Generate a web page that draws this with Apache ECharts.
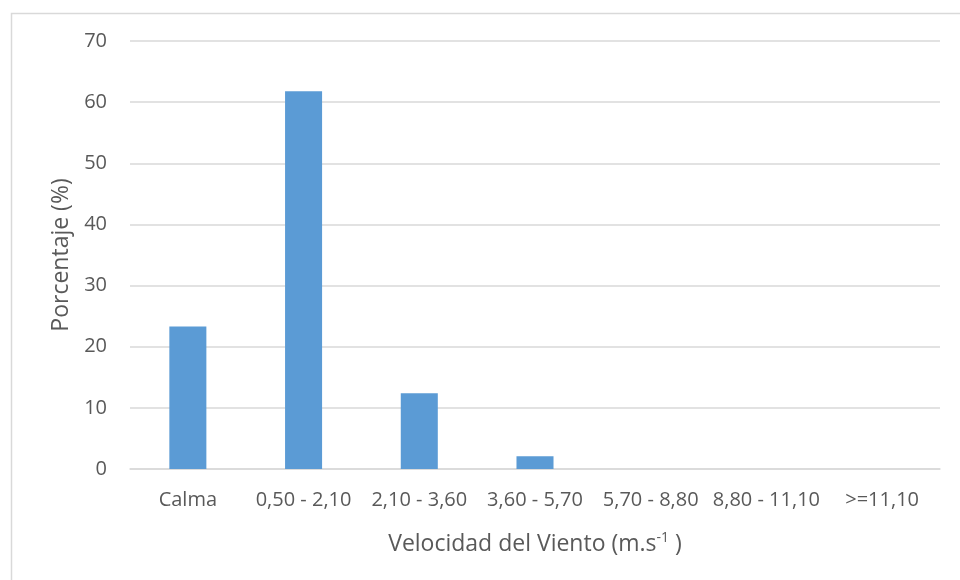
<!DOCTYPE html>
<html><head><meta charset="utf-8">
<script src="https://cdn.jsdelivr.net/npm/echarts@6/dist/echarts.min.js"></script>
<style>html,body{margin:0;padding:0;background:#fff}#c{width:960px;height:580px}</style>
</head><body><div id="c"></div>
<script>
const categories = ['Calma', '0,50 - 2,10', '2,10 - 3,60', '3,60 - 5,70', '5,70 - 8,80', '8,80 - 11,10', '>=11,10'];
const percentages = [23.3, 61.8, 12.4, 2.1, 0, 0, 0];
const yTicks = { min: 0, max: 70, interval: 10 };

const chart = echarts.init(document.getElementById('c'), null, { renderer: 'canvas' });
const font = 'Open Sans, Noto Sans, sans-serif';
chart.setOption({
  backgroundColor: '#fff',
  animation: false,
  graphic: [{
    type: 'rect', left: 9, top: 11, silent: true,
    shape: { x: 0, y: 0, width: 960, height: 580 },
    style: { fill: 'none', stroke: '#d9d9d9', lineWidth: 1.5 }
  }],
  grid: { left: 130, right: 20, top: 41, bottom: 111, containLabel: false },
  xAxis: {
    type: 'category',
    data: categories,
    axisLine: { show: true, lineStyle: { color: '#d9d9d9', width: 1.5 } },
    axisTick: { show: false },
    axisLabel: { color: '#595959', fontSize: 20, fontFamily: font, margin: 21, interval: 0 },
    name: 'Velocidad del Viento (m.s{sup|-1} )',
    nameLocation: 'middle',
    nameGap: 62,
    nameTextStyle: {
      color: '#595959', fontSize: 23, fontFamily: font,
      rich: { sup: { fontSize: 14, verticalAlign: 'top', padding: [0, 0, 12, 0], color: '#595959', fontFamily: font } }
    }
  },
  yAxis: {
    type: 'value',
    min: yTicks.min, max: yTicks.max, interval: yTicks.interval,
    axisLine: { show: false },
    axisTick: { show: false },
    splitLine: { lineStyle: { color: '#d9d9d9', width: 1.5 } },
    axisLabel: { color: '#595959', fontSize: 20, fontFamily: font, margin: 23 },
    name: 'Porcentaje (%)',
    nameLocation: 'middle',
    nameGap: 56,
    nameTextStyle: { color: '#595959', fontSize: 23, fontFamily: font }
  },
  series: [{
    type: 'bar',
    data: percentages,
    barWidth: '32%',
    itemStyle: { color: '#5B9BD5' }
  }]
});
</script></body></html>
